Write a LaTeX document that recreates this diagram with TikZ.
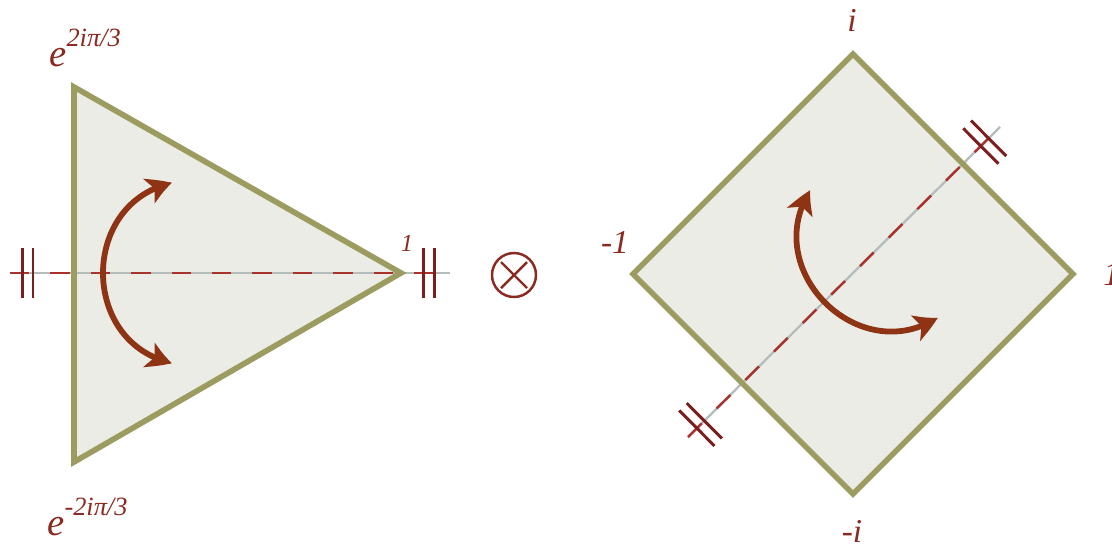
\documentclass[tikz,border=0pt]{standalone}
\usepackage{fontspec}
\setmainfont{Liberation Serif}
\usetikzlibrary{arrows.meta,bending,decorations.markings}

\definecolor{facegray}{HTML}{ECECE7}
\definecolor{rimolive}{HTML}{9C9C60}
\definecolor{axisgray}{HTML}{B4BCBC}
\definecolor{axisred}{HTML}{A8322C}
\definecolor{tickred}{HTML}{7A1E1E}
\definecolor{turnbrown}{HTML}{8E3414}
\definecolor{labelred}{HTML}{8A2A20}

\tikzset{twist/.pic={
    \draw[turn] (0,-90) .. controls (-92,-70) and (-92,70) .. (0,90);
}}

\begin{document}
\begin{tikzpicture}
    [x=0.02cm, y=-0.02cm,
    face/.style={fill=facegray},
    rim/.style={draw=rimolive, line width=3.2pt, line join=miter},
    axis/.style={draw=axisgray, line width=1.3pt,
        postaction={draw=axisred, line width=1.4pt, dash pattern=on 11pt off 12pt},
        postaction={decorate, decoration={markings,
            mark=at position 0.25cm with {\draw[tick] (0,-0.5cm) -- (0,0.5cm);},
            mark=at position 0.46cm with {\draw[tick] (0,-0.5cm) -- (0,0.5cm);},
            mark=at position -0.54cm with {\draw[tick] (0,-0.5cm) -- (0,0.5cm);},
            mark=at position -0.32cm with {\draw[tick] (0,-0.5cm) -- (0,0.5cm);}}}},
    tick/.style={draw=tickred, line width=1.7pt},
    turn/.style={draw=turnbrown, line width=3.3pt,
        {Stealth[length=14pt,width=15pt,inset=3.5pt,bend]}-{Stealth[length=14pt,width=15pt,inset=3.5pt,bend]}},
    lbl/.style={text=labelred, inner sep=0pt, font=\fontsize{19}{19}\selectfont\itshape},
    small lbl/.style={lbl, font=\fontsize{14}{14}\selectfont\itshape}]
    \useasboundingbox (0,0) rectangle (1112,552);

    %% triangle
    \coordinate (t1) at (74,87);
    \coordinate (t2) at (74,462);
    \coordinate (t3) at (401,273);
    \coordinate (aL) at (10,273);
    \coordinate (aR) at (450,273);
    \fill[face] (t1) -- (t3) -- (t2) -- cycle;
    \draw[axis] (aL) -- (aR);
    \draw[rim] (t1) -- (t3) -- (t2) -- cycle;
    \pic at (172,273) {twist};

    \node[lbl, anchor=base west, font=\fontsize{22}{22}\selectfont\itshape] (w1) at (49,66)
        {e\raisebox{0.5em}{\fontsize{15}{15}\selectfont 2iπ/3}};
    \node[lbl, anchor=base west, font=\fontsize{22}{22}\selectfont\itshape] (w2) at (47,535)
        {e\raisebox{0.5em}{\fontsize{15}{15}\selectfont -2iπ/3}};
    \node[small lbl] (w0) at (407,243) {1};

    %% product sign
    \node[circle, draw=labelred, line width=1.4pt, minimum size=0.88cm, inner sep=0pt] (prod) at (514,275) {};
    \draw[labelred, line width=1.4pt] (prod.center) +(-13,-13) -- +(13,13) +(-13,13) -- +(13,-13);

    %% square
    \coordinate (s1) at (853,54);
    \coordinate (s2) at (1073,274);
    \coordinate (s3) at (853,494);
    \coordinate (s4) at (633,274);
    \coordinate (sL) at (688,437);
    \coordinate (sR) at (1000,127);
    \fill[face] (s1) -- (s2) -- (s3) -- (s4) -- cycle;
    \draw[axis] (sL) -- (sR);
    \draw[rim] (s1) -- (s2) -- (s3) -- (s4) -- cycle;
    \pic[rotate=45] at (874,254) {twist};

    \node[lbl] (z1) at (852,20) {i};
    \node[lbl] (z2) at (852,531) {-i};
    \node[lbl] (z3) at (615,242) {-1};
    \node[lbl, anchor=base west] (z4) at (1103,285) {1};
\end{tikzpicture}
\end{document}
